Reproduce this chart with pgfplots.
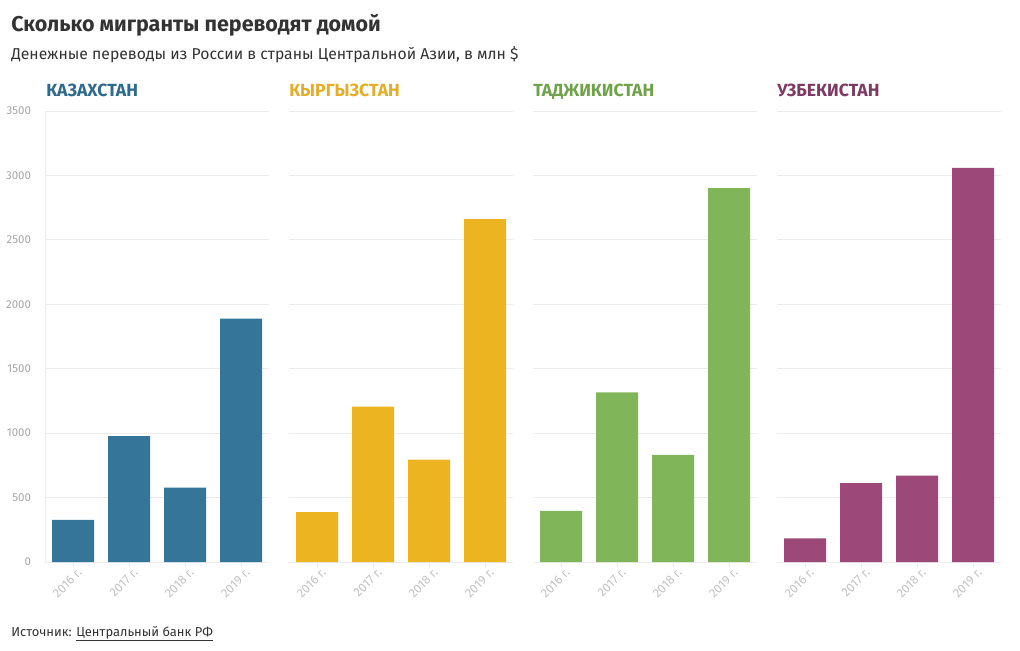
\documentclass[border=0pt]{standalone}
\usepackage{pgfplots}
\pgfplotsset{compat=1.18}
\usepackage{fontspec}
\setmainfont{Fira Sans}
\definecolor{kz}{HTML}{347599}
\definecolor{kzt}{HTML}{2D6A8C}
\definecolor{kg}{HTML}{ECB420}
\definecolor{kgt}{HTML}{E5AE2A}
\definecolor{tj}{HTML}{80B55A}
\definecolor{tjt}{HTML}{6FA24A}
\definecolor{uz}{HTML}{9C4878}
\definecolor{uzt}{HTML}{7D3A62}
\definecolor{gridc}{HTML}{ECECEC}
\definecolor{tickc}{HTML}{A6A6A6}
\definecolor{xtickc}{HTML}{C2C2C2}
\definecolor{titlec}{HTML}{333333}
\begin{document}
\begin{tikzpicture}[x=0.75pt,y=0.75pt]
\path[use as bounding box] (0,0) rectangle (1020,650);
\pgfplotsset{panel/.style={
  scale only axis, width=168pt, height=338.25pt,
  xmin=-0.5, xmax=3.5, ymin=0, ymax=3500,
  ytick={0,500,...,3500}, ymajorgrids,
  grid style={color=gridc, line width=0.6pt},
  axis line style={draw=none},
  xtick={0,1,2,3},
  xticklabels={2016 г.,2017 г.,2018 г.,2019 г.},
  xtick pos=lower, tick align=outside,
  x tick style={color=gridc, line width=0.6pt},
  major tick length=4pt,
  y tick style={draw=none},
  x tick label style={rotate=45, anchor=north east, font=\fontsize{9.3}{10}\selectfont, text=xtickc, inner sep=1pt, yshift=-1pt, xshift=3pt},
  y tick label style={font=\fontsize{8.6}{9}\selectfont, text=tickc, xshift=-3pt},
  /pgf/number format/1000 sep={},
  /pgf/number format/assume math mode=true,
  anchor=south west,
}}
% Kazakhstan
\begin{axis}[panel, at={(33.75pt,66pt)}]
\draw[gridc, line width=0.6pt] (rel axis cs:0,0) -- (rel axis cs:0,1);
\addplot[ybar, bar width=31.5pt, fill=kz, draw=none] coordinates {(0,326) (1,977) (2,578) (3,1889)};
\end{axis}
% Kyrgyzstan
\begin{axis}[panel, at={(216.75pt,66pt)}, yticklabels={}]
\addplot[ybar, bar width=31.5pt, fill=kg, draw=none] coordinates {(0,388) (1,1205) (2,795) (3,2661)};
\end{axis}
% Tajikistan
\begin{axis}[panel, at={(399.75pt,66pt)}, yticklabels={}]
\addplot[ybar, bar width=31.5pt, fill=tj, draw=none] coordinates {(0,396) (1,1316) (2,832) (3,2901)};
\end{axis}
% Uzbekistan
\begin{axis}[panel, at={(582.75pt,66pt)}, yticklabels={}]
\addplot[ybar, bar width=31.5pt, fill=uz, draw=none] coordinates {(0,184) (1,613) (2,670) (3,3059)};
\end{axis}
% titles
\node[anchor=base west, inner sep=0pt, text=titlec, font=\fontsize{16.1}{18}\selectfont\bfseries] at (11,618) {Сколько мигранты переводят домой};
\node[anchor=base west, inner sep=0pt, text=titlec, font=\fontsize{11.8}{14}\selectfont] at (11,590) {Денежные переводы из России в страны Центральной Азии, в млн \$};
\node[anchor=base west, inner sep=0pt, text=kzt, font=\fontsize{13.2}{14}\selectfont\bfseries] at (46,553) {КАЗАХСТАН};
\node[anchor=base west, inner sep=0pt, text=kgt, font=\fontsize{13.2}{14}\selectfont\bfseries] at (289,553) {КЫРГЫЗСТАН};
\node[anchor=base west, inner sep=0pt, text=tjt, font=\fontsize{13.2}{14}\selectfont\bfseries] at (533,553) {ТАДЖИКИСТАН};
\node[anchor=base west, inner sep=0pt, text=uzt, font=\fontsize{13.2}{14}\selectfont\bfseries] at (777,553) {УЗБЕКИСТАН};
\node[anchor=base west, inner sep=0pt, text=titlec, font=\fontsize{9.7}{12}\selectfont] at (11,14) {Источник: \underline{Центральный банк РФ}};
\end{tikzpicture}
\end{document}
